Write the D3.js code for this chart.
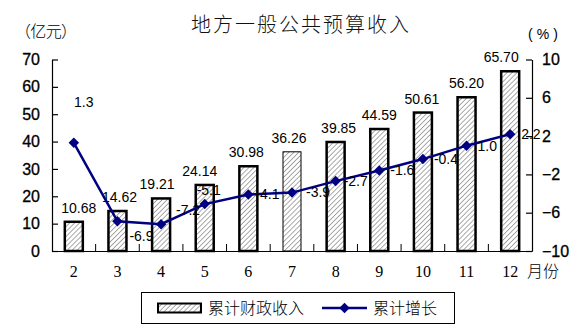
<!DOCTYPE html>
<html><head><meta charset="utf-8">
<script src="https://cdn.jsdelivr.net/npm/d3@7"></script>
<style>body{margin:0;background:#fff}svg{display:block}</style>
</head><body>
<svg id="c" width="585" height="330"></svg>
<script>
const months = ["2","3","4","5","6","7","8","9","10","11","12"];
const revenue = [10.68,14.62,19.21,24.14,30.98,36.26,39.85,44.59,50.61,56.20,65.70];
const growth = [1.3,-6.9,-7.2,-5.1,-4.1,-3.9,-2.7,-1.6,-0.4,1.0,2.2];
const leftTicks = [0,10,20,30,40,50,60,70];
const rightTicks = [-10,-6,-2,2,6,10];
// label nudges (style only)
const barLabelDx = [5,2,-4,-5,-2,-3,3,0,-1,0,-9];
const lineLabelPos = [[10,-41,"middle"],[24,15,"middle"],[27,-14,"middle"],[4,-14,"middle"],
  [7,0,"start"],[14,0,"start"],[8,0,"start"],[11,0,"start"],[11,0,"start"],[11,0,"start"],[11,0,"start"]];

const svg = d3.select("#c");
const L = 52, R = 532, T = 59.5, B = 251;
const x = d3.scaleBand().domain(months).range([L, R]);
const yL = d3.scaleLinear().domain([0,70]).range([B,T]);
const yR = d3.scaleLinear().domain([-10,10]).range([B,T]);
const sans = "'Liberation Sans', Arial, sans-serif";
const cjk = "'Noto Sans CJK SC', sans-serif";

const defs = svg.append("defs");
const pat = defs.append("pattern").attr("id","hatch").attr("patternUnits","userSpaceOnUse")
  .attr("width",3.5).attr("height",3.5).attr("patternTransform","rotate(45)");
pat.append("rect").attr("width",3.5).attr("height",3.5).attr("fill","#fff");
pat.append("line").attr("x1",0).attr("y1",0).attr("x2",0).attr("y2",3.5).attr("stroke","#555").attr("stroke-width",1);

// title
svg.append("text").attr("x",300).attr("y",32).attr("text-anchor","middle")
  .attr("font-family",cjk).attr("font-size",20).attr("font-weight",300).attr("fill","#111")
  .attr("textLength",218).attr("lengthAdjust","spacing").text("地方一般公共预算收入");
svg.append("text").attr("x",15).attr("y",37).attr("font-family",cjk).attr("font-size",16).attr("font-weight",300)
  .attr("textLength",62).attr("lengthAdjust","spacing").text("（亿元）");
svg.append("text").attr("x",528).attr("y",39).attr("font-family",sans).attr("font-size",14)
  .attr("textLength",30).attr("lengthAdjust","spacing").text("(%)");

// bars
const bw = 18;
svg.append("g").selectAll("rect").data(revenue).join("rect")
  .attr("x",(d,i)=>x(months[i])+x.bandwidth()/2-bw/2)
  .attr("y",d=>yL(d)).attr("width",bw).attr("height",d=>B-yL(d))
  .attr("fill","url(#hatch)").attr("stroke","#000")
  .attr("stroke-width",(d,i)=>i===5?1:2.5);

// axes
const axL = svg.append("g").attr("transform",`translate(${L},0)`)
  .call(d3.axisLeft(yL).tickValues(leftTicks).tickSizeInner(-6).tickSizeOuter(0).tickPadding(12));
const axR = svg.append("g").attr("transform",`translate(${R},0)`)
  .call(d3.axisRight(yR).tickValues(rightTicks).tickSizeInner(-6).tickSizeOuter(0).tickPadding(10));
const axB = svg.append("g").attr("transform",`translate(0,${B})`)
  .call(d3.axisBottom(x).tickSize(0).tickPadding(15));
[axL,axR].forEach(a=>{a.selectAll("text").attr("font-family",sans).attr("font-size",16).attr("fill","#000")
    .attr("stroke","#000").attr("stroke-width",0.3);
  a.selectAll("line,path").attr("stroke","#000").attr("stroke-width",1.2);});
axB.selectAll("text").attr("font-family","'Liberation Serif', 'Times New Roman', serif").attr("font-size",16).attr("fill","#000");
axB.select("path").attr("stroke","#000").attr("stroke-width",1.2);
// bottom boundary ticks (upward)
const bounds = months.slice(1).map(m=>x(m));
axB.selectAll(".bt").data(bounds).join("line").attr("class","bt")
  .attr("x1",d=>d).attr("x2",d=>d).attr("y1",0).attr("y2",-7).attr("stroke","#000").attr("stroke-width",1);
svg.append("text").attr("x",527).attr("y",277).attr("font-family",cjk).attr("font-size",16).attr("font-weight",300).text("月份");

// bar labels
svg.append("g").selectAll("text").data(revenue).join("text")
  .attr("x",(d,i)=>x(months[i])+x.bandwidth()/2+barLabelDx[i])
  .attr("y",d=>yL(d)-9).attr("text-anchor","middle")
  .attr("font-family",sans).attr("font-size",14).attr("fill","#000")
  .text(d=>d.toFixed(2));

// line
const cx = i=>x(months[i])+x.bandwidth()/2;
svg.append("path").datum(growth)
  .attr("d",d3.line().x((d,i)=>cx(i)).y(d=>yR(d)))
  .attr("fill","none").attr("stroke","#000080").attr("stroke-width",2.5);
const diamond = d3.symbol().type(d3.symbolDiamond2).size(70);
svg.append("g").selectAll("path").data(growth).join("path")
  .attr("transform",(d,i)=>`translate(${cx(i)},${yR(d)})`)
  .attr("d",diamond).attr("fill","#000080");

// line labels
svg.append("g").selectAll("text").data(growth).join("text")
  .attr("x",(d,i)=>cx(i)+lineLabelPos[i][0])
  .attr("y",(d,i)=>yR(d)+lineLabelPos[i][1]).attr("dy","0.35em")
  .attr("text-anchor",(d,i)=>lineLabelPos[i][2])
  .attr("font-family",sans).attr("font-size",14).attr("fill","#000")
  .text(d=>d.toFixed(1));

// legend
const lg = svg.append("g");
lg.append("rect").attr("x",141.5).attr("y",292.5).attr("width",313).attr("height",31)
  .attr("fill","#fff").attr("stroke","#000").attr("stroke-width",1);
lg.append("rect").attr("x",158).attr("y",303.5).attr("width",43).attr("height",9)
  .attr("fill","url(#hatch)").attr("stroke","#000").attr("stroke-width",2);
lg.append("text").attr("x",208).attr("y",314).attr("font-family",cjk).attr("font-size",16).attr("font-weight",300).text("累计财政收入");
lg.append("line").attr("x1",322).attr("x2",367).attr("y1",308).attr("y2",308).attr("stroke","#000080").attr("stroke-width",2.5);
lg.append("path").attr("transform","translate(344.5,308)").attr("d",diamond).attr("fill","#000080");
lg.append("text").attr("x",373).attr("y",314).attr("font-family",cjk).attr("font-size",16).attr("font-weight",300).text("累计增长");
</script>
</body></html>
